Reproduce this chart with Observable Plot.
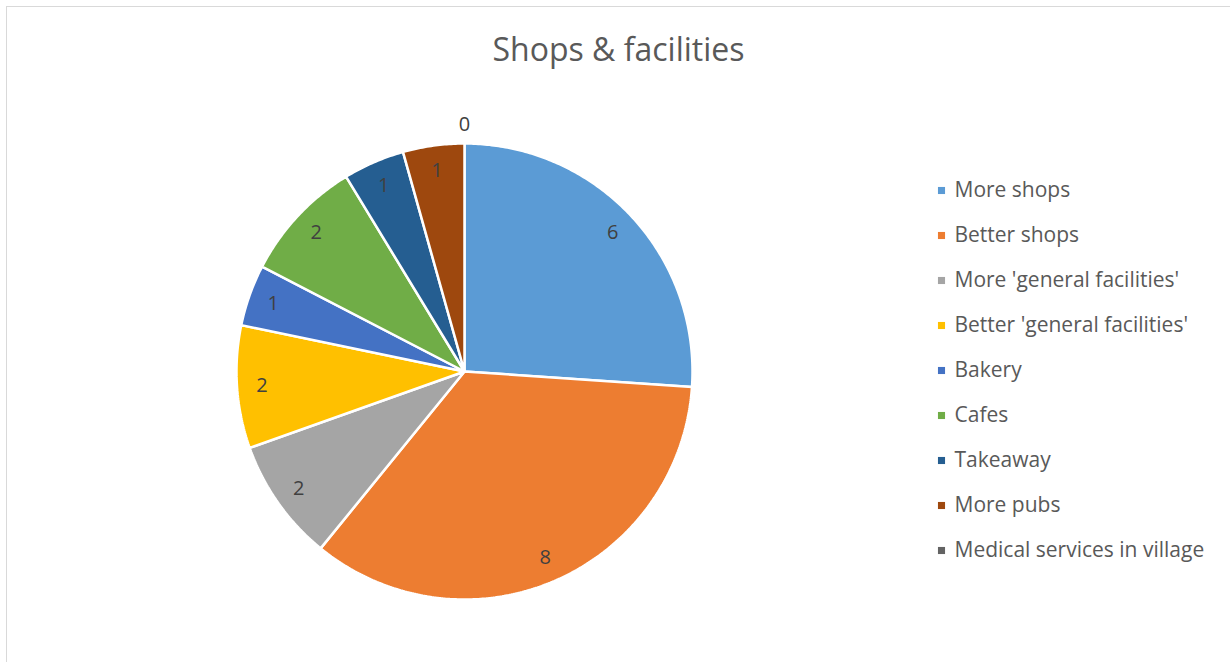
<!DOCTYPE html>
<html>
<head>
<meta charset="utf-8">
<script src="https://cdn.jsdelivr.net/npm/d3@7"></script>
<script src="https://cdn.jsdelivr.net/npm/@observablehq/plot@0.6"></script>
<style>
  html, body { margin: 0; padding: 0; background: #fff; }
  #wrap { position: relative; width: 1230px; height: 662px; overflow: hidden; }
  #border { position: absolute; left: 6px; top: 6px; width: 1240px; height: 680px; border: 1px solid #d9d9d9; box-sizing: border-box; }
  #chart { position: absolute; left: 0; top: 0; }
</style>
</head>
<body>
<div id="wrap"><div id="border"></div><div id="chart"></div></div>
<script>
const title = "Shops & facilities";
const categories = ["More shops", "Better shops", "More 'general facilities'", "Better 'general facilities'", "Bakery", "Cafes", "Takeaway", "More pubs", "Medical services in village"];
const values = [6, 8, 2, 2, 1, 2, 1, 1, 0];
const colors = ["#5B9BD5", "#ED7D31", "#A5A5A5", "#FFC000", "#4472C4", "#70AD47", "#255E91", "#9E480E", "#636363"];

const W = 1230, H = 662;
const cx = 464, cy = 371, R = 228;

const arcs = d3.pie().sort(null).value(d => d.value)(categories.map((c, i) => ({category: c, value: values[i]})));

// polygon points of each wedge (angles from 12 o'clock, clockwise; y downward)
const wedgePts = [];
for (const a of arcs) {
  if (a.endAngle - a.startAngle <= 0) continue;
  const n = Math.max(2, Math.ceil((a.endAngle - a.startAngle) / 0.01));
  wedgePts.push({category: a.data.category, x: cx, y: cy});
  for (let k = 0; k <= n; k++) {
    const t = a.startAngle + (a.endAngle - a.startAngle) * k / n;
    wedgePts.push({category: a.data.category, x: cx + R * Math.sin(t), y: cy - R * Math.cos(t)});
  }
  wedgePts.push({category: a.data.category, x: cx, y: cy});
}

const labels = arcs.map(a => {
  const m = (a.startAngle + a.endAngle) / 2;
  const rr = a.data.value > 0 ? R * 0.89 : R * 1.085;
  return {text: String(a.data.value), x: cx + rr * Math.sin(m), y: cy - rr * Math.cos(m)};
});

const legend = categories.map((c, i) => ({category: c, x: 941, y: 190 + i * 45}));

const chart = Plot.plot({
  width: W, height: H,
  margin: 0,
  x: {domain: [0, W], range: [0, W], axis: null},
  y: {domain: [0, H], range: [0, H], axis: null},
  color: {domain: categories, range: colors},
  style: {fontFamily: "'Open Sans', 'Noto Sans', sans-serif", background: "transparent"},
  marks: [
    Plot.line(wedgePts, {x: "x", y: "y", z: "category", fill: "category", stroke: "#fff", strokeWidth: 2.5, strokeLinejoin: "miter", curve: "linear"}),
    Plot.text(labels, {x: "x", y: "y", text: "text", fill: "#404040", fontSize: 20}),
    Plot.text([title], {x: 618, y: 50, text: d => d, fill: "#595959", fontSize: 32}),
    Plot.dot(legend, {x: "x", y: "y", symbol: "square", r: 4, fill: "category", stroke: null}),
    Plot.text(legend, {x: d => d.x + 13, y: "y", text: "category", textAnchor: "start", fill: "#595959", fontSize: 21})
  ]
});
document.getElementById("chart").appendChild(chart);
</script>
</body>
</html>
